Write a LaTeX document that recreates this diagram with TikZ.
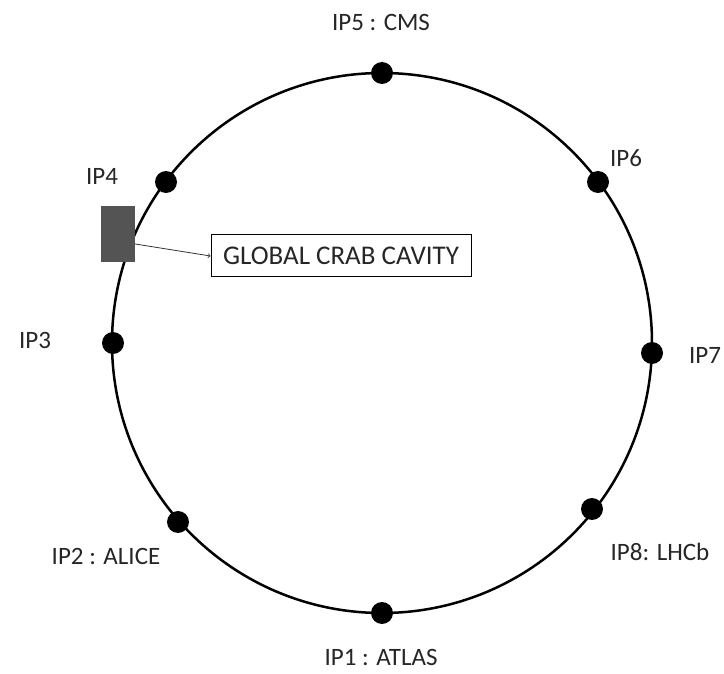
\documentclass[tikz,border=0pt]{standalone}
\usepackage{fontspec}
\setmainfont{Carlito}
\usetikzlibrary{positioning}
\begin{document}
\begin{tikzpicture}
[x=1pt,y=-1pt,
  ipdecorate/.style={shape=circle,fill=black,inner sep=0pt,minimum size=22pt},
  labeldecorate/.style={font=\fontsize{25}{30}\selectfont,text=black!85,inner sep=0pt},
  ringdecorate/.style={line width=2.5pt},
  linedecorate/.style={->,line width=0.8pt,black!80}]
\useasboundingbox (0,0) rectangle (724,674);
%% ring
\draw[ringdecorate] (382,343) circle (270pt);
%% interaction points
\foreach \nodename/\x/\y in {ipone/382/613, iptwo/178/522, ipthree/113/343,
  ipfour/166/182, ipfive/382/73, ipsix/598/182, ipseven/652/353, ipeight/592/509} {
  \node (\nodename) at (\x,\y) [ipdecorate] {};
}
%% labels
\foreach \nodename/\x/\y/\labeltext in {lone/381/657/IP1 : ATLAS, ltwo/106/556/IP2 : ALICE,
  lthree/35/340/IP3, lfour/102/176/IP4, lfive/381/22/IP5 : CMS, lsix/626/158/IP6,
  lseven/705/355/IP7, leight/660/552/IP8: LHCb} {
  \node (\nodename) at (\x,\y) [labeldecorate] {\labeltext};
}
%% crab cavity
\node (cavity) at (118,234) [fill=black!67,minimum width=34pt,minimum height=56pt,inner sep=0pt] {};
\node (gcc) at (341,256) [draw,line width=1pt,minimum width=260pt,minimum height=42pt,
  font=\fontsize{27}{32}\selectfont,text=black!85] {GLOBAL CRAB CAVITY};
\draw[linedecorate] ([yshift=-10pt]cavity.east) -- (gcc.west);
\end{tikzpicture}
\end{document}
